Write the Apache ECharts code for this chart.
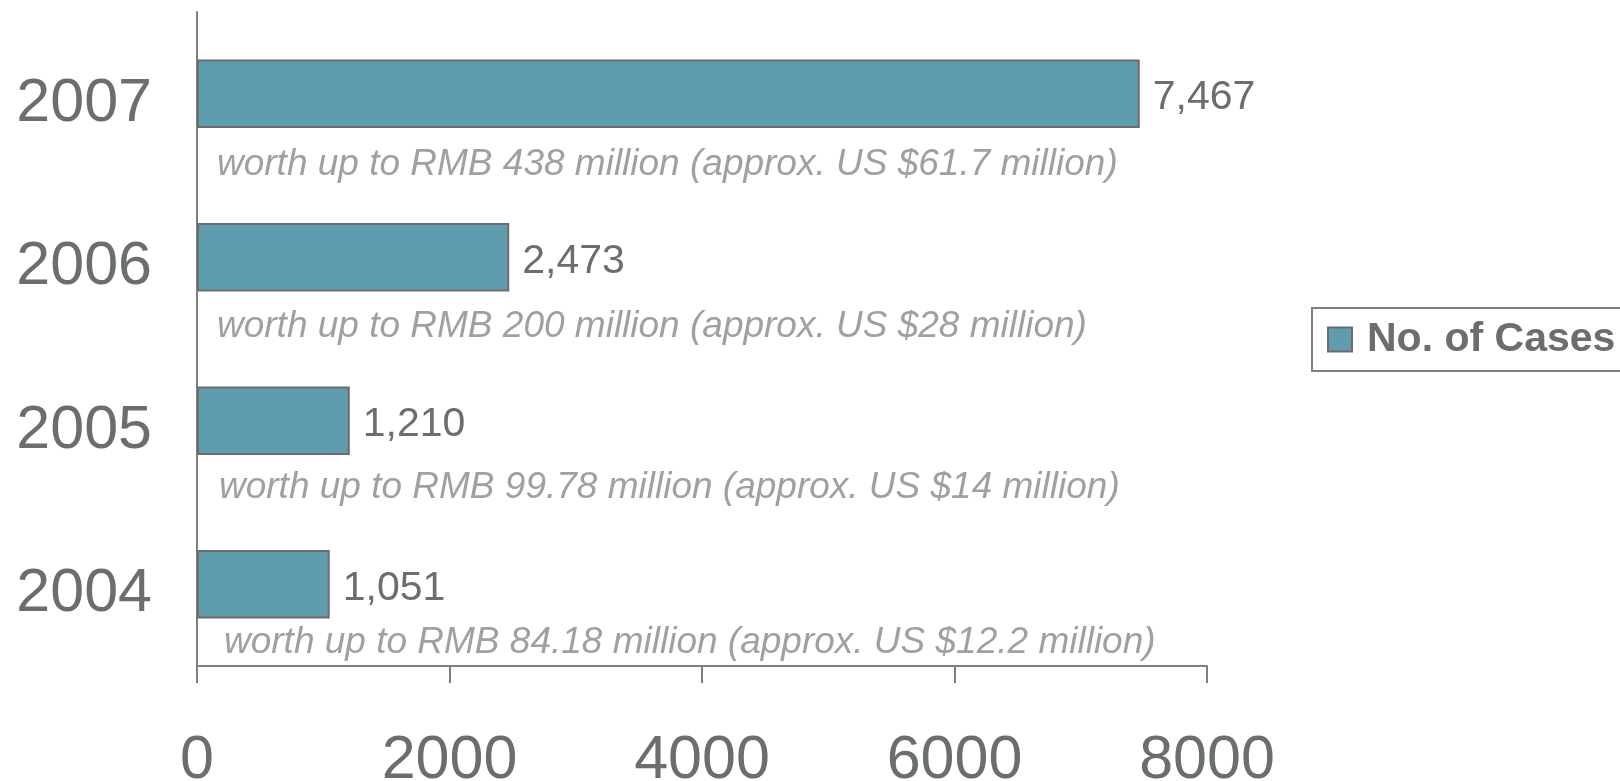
<!DOCTYPE html>
<html>
<head>
<meta charset="utf-8">
<title>No. of Cases</title>
<script src="https://cdn.jsdelivr.net/npm/echarts@6/dist/echarts.min.js"></script>
<style>
  html, body { margin: 0; padding: 0; background: #ffffff; }
  #chart { width: 1620px; height: 781px; }
</style>
</head>
<body>
<div id="chart"></div>
<script>
// Years, bottom to top
var years = ['2004', '2005', '2006', '2007'];
// Number of cases per year
var cases = [1051, 1210, 2473, 7467];
// Value notes shown under each bar
var notes = [
  'worth up to RMB 84.18 million (approx. US $12.2 million)',
  'worth up to RMB 99.78 million (approx. US $14 million)',
  'worth up to RMB 200 million (approx. US $28 million)',
  'worth up to RMB 438 million (approx. US $61.7 million)'
];
// Value axis ticks
var xMin = 0, xMax = 8000, xStep = 2000;

// note placement relative to the start of each bar row
var noteDx = [27, 22, 20, 20];
var noteDy = [58, 67, 69, 71];

var FONT = '"Liberation Sans", Arial, sans-serif';
var GREY = '#6a6e6e';

var chart = echarts.init(document.getElementById('chart'), null, { renderer: 'canvas' });

chart.setOption({
  animation: false,
  backgroundColor: '#ffffff',
  textStyle: { fontFamily: FONT },
  grid: {
    left: 197, right: 413, top: 12, bottom: 115,
    containLabel: false,
    outerBoundsMode: 'none'
  },
  legend: {
    left: 1312,
    top: 308,
    orient: 'vertical',
    data: ['No. of Cases'],
    icon: 'rect',
    itemWidth: 24,
    itemHeight: 24,
    padding: [11, 15, 11, 15],
    borderColor: '#7f7f7f',
    borderWidth: 2,
    textStyle: {
      fontFamily: FONT,
      fontSize: 41,
      fontWeight: 'bold',
      color: GREY,
      padding: [4, 0, 0, 10]
    }
  },
  xAxis: {
    type: 'value',
    min: xMin,
    max: xMax,
    interval: xStep,
    axisLine: { show: true, lineStyle: { color: '#7f7f7f', width: 2 } },
    axisTick: { show: true, length: 17, lineStyle: { color: '#7f7f7f', width: 2 } },
    splitLine: { show: false },
    axisLabel: {
      fontFamily: FONT, fontSize: 61, color: GREY, margin: 65,
      formatter: function (v) { return String(v); }
    }
  },
  yAxis: {
    type: 'category',
    data: years,
    axisLine: { show: true, lineStyle: { color: '#7f7f7f', width: 2 } },
    axisTick: { show: false },
    axisLabel: {
      fontFamily: FONT, fontSize: 61, color: GREY, margin: 45,
      verticalAlign: 'top',
      lineHeight: 20
    }
  },
  series: [
    {
      name: 'No. of Cases',
      type: 'bar',
      data: cases,
      barWidth: '42%',
      itemStyle: { color: '#5f9cae', borderColor: '#6c6c6c', borderWidth: 2 },
      label: {
        show: true,
        position: 'right',
        distance: 13,
        offset: [0, 4],
        fontFamily: FONT,
        fontSize: 41,
        color: GREY,
        formatter: function (p) { return p.value.toLocaleString('en-US'); }
      }
    },
    {
      name: 'notes',
      type: 'custom',
      silent: true,
      data: notes.map(function (t, i) { return [0, i, t]; }),
      encode: { x: 0, y: 1 },
      renderItem: function (params, api) {
        var i = params.dataIndex;
        var p = api.coord([0, api.value(1)]);
        return {
          type: 'text',
          x: p[0] + noteDx[i],
          y: p[1] + noteDy[i],
          style: {
            text: notes[i],
            font: 'italic 37px ' + FONT,
            fill: '#a0a0a0',
            verticalAlign: 'middle',
            align: 'left'
          }
        };
      }
    }
  ]
});
</script>
</body>
</html>
